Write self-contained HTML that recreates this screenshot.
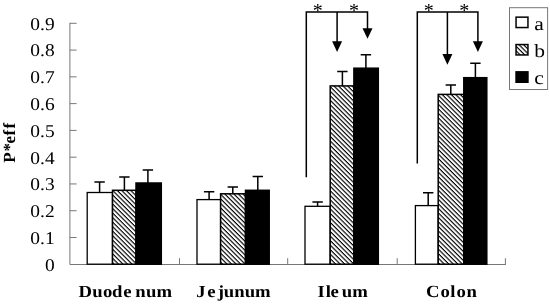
<!DOCTYPE html>
<html><head><meta charset="utf-8"><title>chart</title>
<style>
html,body{margin:0;padding:0;background:#fff;}
body{width:550px;height:304px;overflow:hidden;}
svg{display:block;}
text{text-rendering:geometricPrecision;font-family:"Liberation Serif","Times New Roman",serif;fill:#000;}
.yl{font-size:18px;text-anchor:end;}
.cl{font-size:17px;font-weight:bold;}
.lg{font-size:18.7px;}
.st{font-size:20px;text-anchor:middle;}
</style></head><body>
<svg width="550" height="304" viewBox="0 0 550 304">
<defs>
<pattern id="h" patternUnits="userSpaceOnUse" width="3.2" height="3.2" patternTransform="rotate(45)">
<rect width="3.2" height="3.2" fill="#fff"/><rect width="3.2" height="1.15" fill="#000"/>
</pattern>
</defs>
<rect width="550" height="304" fill="#fff"/>

<g stroke="#777" stroke-width="1" fill="none">
<path d="M69.9 22.8V264.5H505.9"/>
<path d="M69.9 23.30H76.6"/>
<path d="M69.9 50.08H76.6"/>
<path d="M69.9 76.85H76.6"/>
<path d="M69.9 103.62H76.6"/>
<path d="M69.9 130.40H76.6"/>
<path d="M69.9 157.18H76.6"/>
<path d="M69.9 183.95H76.6"/>
<path d="M69.9 210.72H76.6"/>
<path d="M69.9 237.50H76.6"/>
<path d="M179.5 264.5V258.2"/>
<path d="M287.7 264.5V258.2"/>
<path d="M397.2 264.5V258.2"/>
<path d="M505.4 264.5V258.2"/>
</g>
<text class="yl" transform="translate(54.6 270.8) scale(1.08 1)">0</text>
<text class="yl" transform="translate(54.6 244.0) scale(1.08 1)">0.1</text>
<text class="yl" transform="translate(54.6 217.2) scale(1.08 1)">0.2</text>
<text class="yl" transform="translate(54.6 190.4) scale(1.08 1)">0.3</text>
<text class="yl" transform="translate(54.6 163.6) scale(1.08 1)">0.4</text>
<text class="yl" transform="translate(54.6 136.8) scale(1.08 1)">0.5</text>
<text class="yl" transform="translate(54.6 110.0) scale(1.08 1)">0.6</text>
<text class="yl" transform="translate(54.6 83.2) scale(1.08 1)">0.7</text>
<text class="yl" transform="translate(54.6 56.4) scale(1.08 1)">0.8</text>
<text class="yl" transform="translate(54.6 29.6) scale(1.08 1)">0.9</text>
<path d="M99.6 192.5V182.0M94.4 182.0h10.4" stroke="#000" stroke-width="1.5" fill="none"/>
<path d="M124.4 190.3V177.0M119.2 177.0h10.4" stroke="#000" stroke-width="1.5" fill="none"/>
<path d="M147.9 183.0V170.0M142.7 170.0h10.4" stroke="#000" stroke-width="1.5" fill="none"/>
<rect x="87.2" y="192.5" width="25.3" height="71.7" fill="#fff" stroke="#000" stroke-width="1.3"/>
<rect x="112.5" y="190.3" width="23.5" height="73.9" fill="url(#h)" stroke="#000" stroke-width="1.5"/>
<rect x="136.0" y="183.0" width="25.3" height="81.2" fill="#000" stroke="#000" stroke-width="1.5"/>
<path d="M209.1 199.6V191.8M203.9 191.8h10.4" stroke="#000" stroke-width="1.5" fill="none"/>
<path d="M232.8 193.8V187.1M227.6 187.1h10.4" stroke="#000" stroke-width="1.5" fill="none"/>
<path d="M257.8 190.3V176.4M252.6 176.4h10.4" stroke="#000" stroke-width="1.5" fill="none"/>
<rect x="197.0" y="199.6" width="23.6" height="64.6" fill="#fff" stroke="#000" stroke-width="1.3"/>
<rect x="220.6" y="193.8" width="24.9" height="70.4" fill="url(#h)" stroke="#000" stroke-width="1.5"/>
<rect x="245.5" y="190.3" width="23.7" height="73.9" fill="#000" stroke="#000" stroke-width="1.5"/>
<path d="M317.6 206.3V202.1M312.4 202.1h10.4" stroke="#000" stroke-width="1.5" fill="none"/>
<path d="M342.4 85.9V71.4M337.2 71.4h10.4" stroke="#000" stroke-width="1.5" fill="none"/>
<path d="M365.9 68.2V54.8M360.7 54.8h10.4" stroke="#000" stroke-width="1.5" fill="none"/>
<rect x="305.0" y="206.3" width="25.2" height="57.9" fill="#fff" stroke="#000" stroke-width="1.3"/>
<rect x="330.2" y="85.9" width="23.7" height="178.3" fill="url(#h)" stroke="#000" stroke-width="1.5"/>
<rect x="353.9" y="68.2" width="24.4" height="196.0" fill="#000" stroke="#000" stroke-width="1.5"/>
<path d="M428.2 205.6V192.8M423.0 192.8h10.4" stroke="#000" stroke-width="1.5" fill="none"/>
<path d="M450.8 94.4V85.0M445.6 85.0h10.4" stroke="#000" stroke-width="1.5" fill="none"/>
<path d="M475.4 77.7V63.3M470.2 63.3h10.4" stroke="#000" stroke-width="1.5" fill="none"/>
<rect x="415.4" y="205.6" width="22.8" height="58.6" fill="#fff" stroke="#000" stroke-width="1.3"/>
<rect x="438.2" y="94.4" width="25.6" height="169.8" fill="url(#h)" stroke="#000" stroke-width="1.5"/>
<rect x="463.8" y="77.7" width="23.0" height="186.5" fill="#000" stroke="#000" stroke-width="1.5"/>
<path d="M306.3 177.2V12.1H367.5V30.6M337.1 12.1V43.7" stroke="#000" stroke-width="1.5" fill="none"/>
<path d="M332.1 41.300000000000004h10L337.1 51.900000000000006z" fill="#000"/>
<path d="M362.5 28.200000000000003h10L367.5 38.800000000000004z" fill="#000"/>
<text class="st" x="317.7" y="16.7">*</text>
<text class="st" x="353.9" y="16.7">*</text>
<path d="M417.3 163.6V12.1H477.9V43.7M447.4 12.1V56.5" stroke="#000" stroke-width="1.5" fill="none"/>
<path d="M442.4 54.1h10L447.4 64.7z" fill="#000"/>
<path d="M472.9 41.300000000000004h10L477.9 51.900000000000006z" fill="#000"/>
<text class="st" x="428.7" y="16.7">*</text>
<text class="st" x="464.2" y="16.7">*</text>
<rect x="509.5" y="7.7" width="38.1" height="81.8" fill="#fff" stroke="#777" stroke-width="1"/>
<rect x="516.05" y="17.15" width="11.9" height="10.4" fill="#fff" stroke="#000" stroke-width="1.5"/>
<rect x="516.05" y="44.55" width="11.9" height="10.4" fill="url(#h)" stroke="#000" stroke-width="1.5"/>
<rect x="516.05" y="71.85" width="11.9" height="10.4" fill="#000" stroke="#000" stroke-width="1.5"/>
<text class="lg" transform="translate(534.3 29.5) scale(1.15 1)">a</text>
<text class="lg" transform="translate(534.3 57.0) scale(1.15 1)">b</text>
<text class="lg" transform="translate(534.3 83.6) scale(1.15 1)">c</text>
<text class="cl" transform="scale(1.1 1)" x="71.36 83.82 93.73 101.82 112.00 123.00 132.64 142.27" y="297.2">Duodenum</text>
<text class="cl" transform="scale(1.1 1)" x="178.36 188.36 197.91 203.36 212.91 222.45 231.82" y="297.2">Jejunum</text>
<text class="cl" transform="scale(1.1 1)" x="288.55 296.18 300.45 310.64 320.18" y="297.2">Ileum</text>
<text class="cl" transform="scale(1.1 1)" x="387.36 400.55 409.27 415.09 424.00" y="297.2">Colon</text>
<text class="cl" transform="translate(15.2 162.7) rotate(-90)" x="0.00 11.20 19.10 27.10 34.30" y="0">P*eff</text>
</svg></body></html>
